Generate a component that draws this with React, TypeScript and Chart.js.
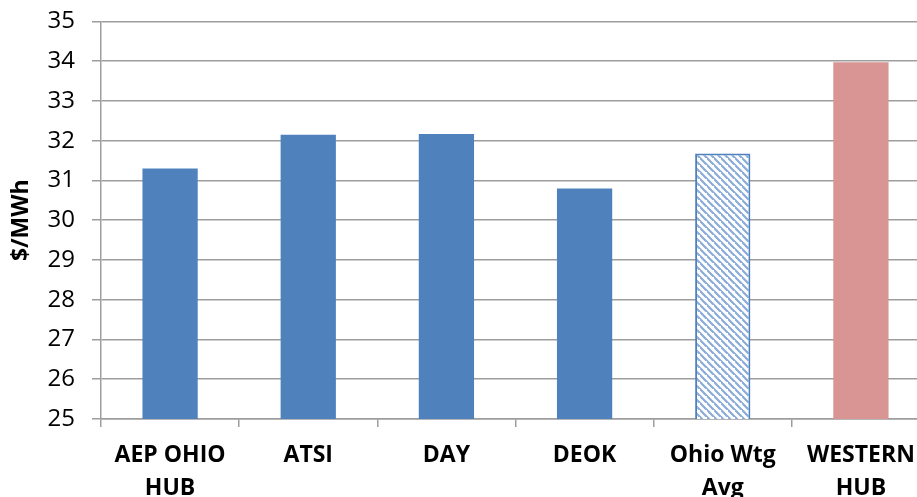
import React, { useEffect, useRef } from "react";
import { Chart, registerables } from "chart.js";

Chart.register(...registerables);

const categories: string[][] = [
  ["AEP OHIO", "HUB"],
  ["ATSI"],
  ["DAY"],
  ["DEOK"],
  ["Ohio Wtg", "Avg"],
  ["WESTERN", "HUB"],
];
const prices: number[] = [31.3, 32.15, 32.17, 30.8, 31.68, 33.97];
const yTicks = { min: 25, max: 35, step: 1 };

const BLUE = "#4F81BD";
const PINK = "#D99594";
const FONT = "'Open Sans', 'DejaVu Sans', sans-serif";

function makeHatch(): CanvasPattern | string {
  const c = document.createElement("canvas");
  const s = 7;
  c.width = s;
  c.height = s;
  const ctx = c.getContext("2d");
  if (!ctx) return BLUE;
  ctx.fillStyle = "#ffffff";
  ctx.fillRect(0, 0, s, s);
  ctx.strokeStyle = "#8aabd8";
  ctx.lineWidth = 2.2;
  ctx.beginPath();
  ctx.moveTo(-1, -1);
  ctx.lineTo(s + 1, s + 1);
  ctx.moveTo(-s - 1, -1);
  ctx.lineTo(1, s + 1);
  ctx.moveTo(s - 1, -s - 1);
  ctx.lineTo(2 * s + 1, s + 1);
  ctx.stroke();
  const p = ctx.createPattern(c, "repeat");
  return p || BLUE;
}

export default function App() {
  const ref = useRef<HTMLCanvasElement | null>(null);
  useEffect(() => {
    if (!ref.current) return;
    const hatch = makeHatch();
    const isAvg = (i: number) => categories[i].join(" ").startsWith("Ohio Wtg");
    const isWestern = (i: number) => categories[i][0] === "WESTERN";
    const chart = new Chart(ref.current, {
      type: "bar",
      data: {
        labels: categories,
        datasets: [
          {
            data: prices,
            backgroundColor: (ctx: any) =>
              isAvg(ctx.dataIndex) ? hatch : isWestern(ctx.dataIndex) ? PINK : BLUE,
            borderColor: (ctx: any) => (isAvg(ctx.dataIndex) ? BLUE : "rgba(0,0,0,0)"),
            borderWidth: (ctx: any) => (isAvg(ctx.dataIndex) ? 2 : 0),
            categoryPercentage: 1,
            barPercentage: 0.4,
          },
        ],
      },
      options: {
        animation: false,
        responsive: true,
        maintainAspectRatio: false,
        layout: { padding: { left: 0, top: 0, right: 0, bottom: 0 } },
        plugins: { legend: { display: false }, tooltip: { enabled: false } },
        scales: {
          x: {
            afterFit: (scale: any) => {
              scale.height = 78;
            },
            grid: {
              offset: true,
              drawOnChartArea: false,
              drawTicks: true,
              tickLength: 8,
              color: "#9d9d9d",
              lineWidth: 1.5,
            },
            border: { color: "#9d9d9d", width: 1.5 },
            ticks: {
              color: "#000",
              font: { family: FONT, size: 23, weight: "bold", lineHeight: 1.43 },
              padding: 12,
              maxRotation: 0,
              autoSkip: false,
            },
          },
          y: {
            min: yTicks.min,
            max: yTicks.max,
            afterFit: (scale: any) => {
              scale.width = 101;
            },
            ticks: {
              stepSize: yTicks.step,
              color: "#000",
              font: { family: FONT, size: 24 },
              padding: 17,
            },
            grid: { color: "#9d9d9d", lineWidth: 1.5, tickLength: 9 },
            border: { color: "#9d9d9d", width: 1.5 },
            title: {
              display: true,
              text: "$/MWh",
              color: "#000",
              font: { family: FONT, size: 23, weight: "bold", lineHeight: 1.2 },
              padding: { top: 8, bottom: 0 },
            },
          },
        },
      },
    });
    return () => chart.destroy();
  }, []);
  return (
    <div
      style={{
        position: "fixed",
        left: 0,
        top: 0,
        width: 917,
        height: 497,
        overflow: "hidden",
        background: "#fff",
      }}
    >
      <div style={{ position: "absolute", left: 0, top: -10, width: 930, height: 507 }}>
        <canvas ref={ref} />
      </div>
    </div>
  );
}
